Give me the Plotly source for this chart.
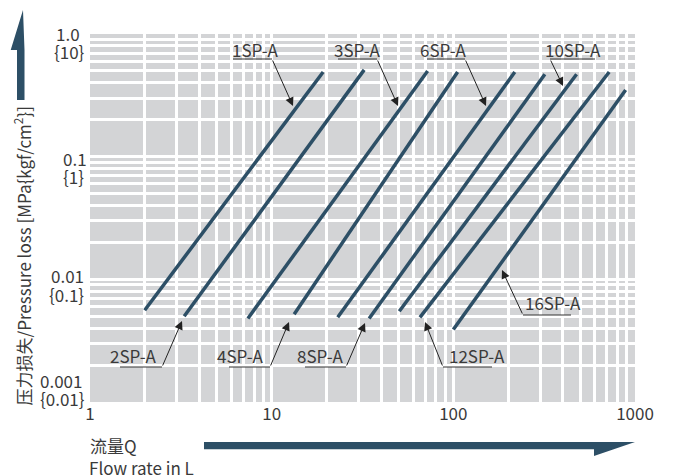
import plotly.graph_objects as go

# ---------------- data ----------------
series_names = ["1SP-A", "2SP-A", "3SP-A", "4SP-A", "6SP-A", "8SP-A", "10SP-A", "12SP-A", "16SP-A"]
q_start = [2.0, 3.3, 7.4, 13.3, 23.1, 34.4, 50.4, 65.5, 100.0]
q_end = [19.2, 32.3, 72.2, 105.6, 218.0, 319.0, 477.0, 721.0, 888.0]
p_start = [0.0056, 0.0050, 0.0048, 0.0052, 0.0049, 0.0048, 0.0055, 0.0049, 0.0039]
p_end = [0.49, 0.51, 0.50, 0.49, 0.49, 0.47, 0.47, 0.49, 0.35]

x_tick_vals = [1, 10, 100, 1000]
x_tick_text = ["1", "10", "100", "1000"]
y_tick_vals = [1.0, 0.1, 0.01, 0.001]
y_tick_mpa = ["1.0", "0.1", "0.01", "0.001"]
y_tick_kgf = ["{10}", "{1}", "{0.1}", "{0.01}"]

# ---------------- layout helpers ----------------
OFF = 8                      # page body margin of the browser
PAGE_W, PAGE_H = 673, 476
X0, X1, Y0, Y1 = 90, 635, 34, 402   # plot area in page pixels
W, H = PAGE_W - OFF, PAGE_H - OFF
L, T = X0 - OFF, Y0 - OFF
R, B = W - (X1 - OFF), H - (Y1 - OFF)
PW, PH = X1 - X0, Y1 - Y0
LINE_C = "#2d4f66"
TXT_C = "#3a3a3a"
FONT = "Noto Sans CJK SC"
FS = 17


def fx(p):
    return (p - X0) / PW


def fy(p):
    return (Y1 - p) / PH


fig = go.Figure()
for name, q0, q1, p0, p1 in zip(series_names, q_start, q_end, p_start, p_end):
    fig.add_trace(go.Scatter(x=[q0, q1], y=[p0, p1], mode="lines", name=name,
                             line=dict(color=LINE_C, width=3.5), showlegend=False,
                             hoverinfo="skip"))

minor_x = [m * 10 ** d for d in range(0, 3) for m in range(2, 10)]
minor_y = [m * 10.0 ** d for d in range(-3, 0) for m in range(2, 10)]

fig.update_layout(
    width=W, height=H,
    margin=dict(l=L, r=R, t=T, b=B, pad=0),
    paper_bgcolor="white",
    plot_bgcolor="#d3d4d6",
    font=dict(family=FONT, color=TXT_C, size=FS),
    xaxis=dict(type="log", range=[0, 3], tickmode="array", tickvals=x_tick_vals,
               ticktext=x_tick_text, showgrid=True, gridcolor="white", gridwidth=2.5,
               zeroline=False, showline=False, ticks="", tickfont=dict(size=FS, color=TXT_C),
               minor=dict(tickmode="array", tickvals=minor_x, showgrid=True,
                          gridcolor="white", gridwidth=2.5, ticks=""),
               fixedrange=True),
    yaxis=dict(type="log", range=[-3, 0], tickmode="array", tickvals=y_tick_vals,
               showticklabels=False, showgrid=True, gridcolor="white", gridwidth=2.5,
               zeroline=False, showline=False, ticks="",
               minor=dict(tickmode="array", tickvals=minor_y, showgrid=True,
                          gridcolor="white", gridwidth=2.5, ticks=""),
               fixedrange=True),
)

annotations = []
# y tick labels: two lines each (MPa over {kgf/cm2}); (left x, first-line y, second-line y)
ytick_pos = [(55, 33.5, 51), (62, 158, 176), (50, 275.5, 294), (39, 380, 398)]
for t1, t2, (lx, y1, y2) in zip(y_tick_mpa, y_tick_kgf, ytick_pos):
    annotations.append(dict(xref="paper", yref="paper", x=fx(lx), y=fy(y1), text=t1,
                            showarrow=False, xanchor="left", yanchor="middle", borderpad=0,
                            font=dict(size=FS, color=TXT_C)))
    annotations.append(dict(xref="paper", yref="paper", x=fx(lx - (2 if t1 in ("1.0", "0.01") else 0)),
                            y=fy(y2), text=t2, borderpad=0,
                            showarrow=False, xanchor="left", yanchor="middle",
                            font=dict(size=FS, color=TXT_C)))

# axis titles
annotations.append(dict(xref="paper", yref="paper", x=fx(22), y=fy(256.5), textangle=-90,
                        text="压力损失/Pressure loss [MPa{kgf/cm<sup>2</sup>}]",
                        showarrow=False, xanchor="center", yanchor="middle",
                        font=dict(size=FS, color=TXT_C)))
annotations.append(dict(xref="paper", yref="paper", x=fx(89), y=fy(445), text="流量Q",
                        showarrow=False, xanchor="left", yanchor="middle", borderpad=0,
                        font=dict(size=FS, color=TXT_C)))
annotations.append(dict(xref="paper", yref="paper", x=fx(88), y=fy(467), text="Flow rate in L",
                        showarrow=False, xanchor="left", yanchor="middle", borderpad=0,
                        font=dict(size=FS, color=TXT_C)))

# series labels: (text center x, y, underline y, underline x0, x1, tail x, head x, head y)
label_layout = {
    "1SP-A": (255, 49, 59, 233, 272, 272, 293, 106),
    "3SP-A": (357, 49, 59, 338, 377, 377, 398, 106),
    "6SP-A": (443, 49, 59, 427, 465, 465, 486, 106),
    "10SP-A": (573, 49, 59, 550, 595, 550, 563, 86),
    "2SP-A": (133, 355, 367, 120, 162, 162, 182, 321),
    "4SP-A": (240, 355, 367, 229, 270, 270, 289, 322),
    "8SP-A": (320, 355, 367, 305, 346, 346, 365, 323),
    "12SP-A": (477, 355, 367, 443, 492, 443, 425, 322),
    "16SP-A": (553, 302, 315, 523, 571, 523, 502, 270),
}
shapes = []
for name in series_names:
    tx, ty, uy, ux0, ux1, tlx, hx, hy = label_layout[name]
    annotations.append(dict(xref="paper", yref="paper", x=fx(tx), y=fy(ty), text=name,
                            showarrow=False, xanchor="center", yanchor="middle",
                            font=dict(size=FS, color=TXT_C)))
    shapes.append(dict(type="line", xref="paper", yref="paper", x0=fx(ux0), x1=fx(ux1),
                       y0=fy(uy), y1=fy(uy), line=dict(color="#333333", width=1)))
    annotations.append(dict(xref="paper", yref="paper", x=fx(hx), y=fy(hy), text="",
                            showarrow=True, ax=tlx - hx, ay=uy - hy, axref="pixel", ayref="pixel",
                            arrowhead=2, arrowsize=1.7, arrowwidth=1, arrowcolor="#222222",
                            standoff=0))


# big axis arrows
def path(points):
    return "M " + " L ".join(f"{fx(a):.5f},{fy(b):.5f}" for a, b in points) + " Z"


shapes.append(dict(type="path", xref="paper", yref="paper", fillcolor=LINE_C,
                   line=dict(width=0),
                   path=path([(17, 100), (17, 50), (10.7, 50), (23, 10), (24.5, 50), (24.5, 100)])))
shapes.append(dict(type="path", xref="paper", yref="paper", fillcolor=LINE_C,
                   line=dict(width=0),
                   path=path([(204, 442), (635, 442), (594, 456), (594, 449.3), (204, 449.3)])))

fig.update_layout(annotations=annotations, shapes=shapes)
fig.write_html("out.html")
